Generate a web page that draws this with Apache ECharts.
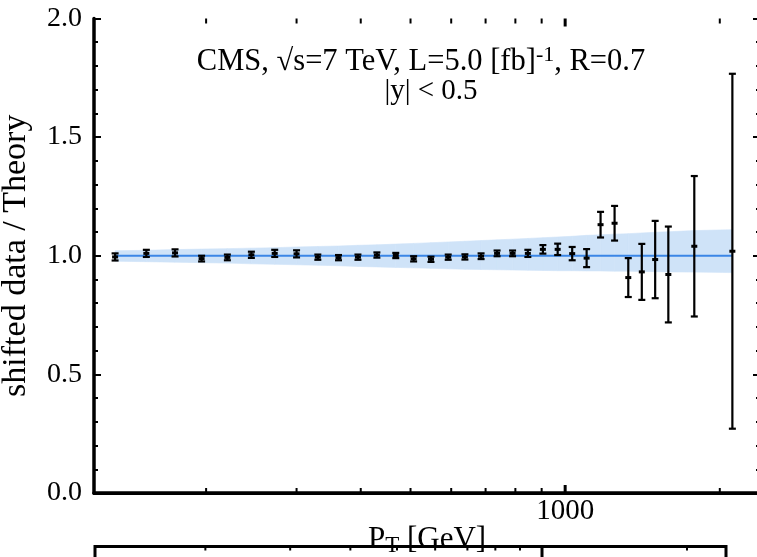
<!DOCTYPE html>
<html>
<head>
<meta charset="utf-8">
<script src="https://cdn.jsdelivr.net/npm/echarts@6/dist/echarts.min.js"></script>
<style>
  html, body { margin: 0; padding: 0; background: #fff; }
  #chart { width: 757px; height: 557px; }
</style>
</head>
<body>
<div id="chart"></div>
<script>
// jet pT bin edges (GeV), data / theory ratio and its error
var pt = [133, 153, 174, 196, 220, 245, 272, 300, 330, 362, 395, 430, 468, 507, 548, 592, 638,
  686, 737, 790, 846, 905, 967, 1032, 1101, 1172, 1248, 1327, 1410, 1497, 1588, 1784, 2116]
var ratio = [0.995, 1.010, 1.012, 0.988, 0.993, 1.004, 1.010, 1.008, 0.994, 0.992, 0.994, 1.003,
  1.001, 0.987, 0.985, 0.994, 0.995, 0.998, 1.010, 1.010, 1.010, 1.027, 1.027, 1.009, 0.990,
  1.131, 1.137, 0.908, 0.932, 0.984, 0.921, 1.040, 1.019]
var ratioErr = [0.015, 0.015, 0.015, 0.012, 0.012, 0.013, 0.015, 0.015, 0.011, 0.011, 0.011, 0.011,
  0.011, 0.011, 0.011, 0.011, 0.011, 0.012, 0.012, 0.012, 0.015, 0.018, 0.024, 0.028, 0.038,
  0.054, 0.073, 0.082, 0.118, 0.163, 0.202, 0.296, 0.748]
// theory uncertainty band
var bandHi = [1.021, 1.023, 1.026, 1.028, 1.030, 1.032, 1.034, 1.037, 1.039, 1.041, 1.044, 1.046,
  1.049, 1.052, 1.055, 1.058, 1.061, 1.064, 1.067, 1.070, 1.073, 1.076, 1.079, 1.082, 1.086,
  1.088, 1.091, 1.093, 1.096, 1.099, 1.101, 1.106, 1.110]
var bandLo = [0.977, 0.975, 0.973, 0.971, 0.969, 0.966, 0.964, 0.962, 0.960, 0.958, 0.955, 0.953,
  0.951, 0.949, 0.947, 0.945, 0.943, 0.942, 0.941, 0.940, 0.939, 0.938, 0.937, 0.937, 0.936,
  0.936, 0.935, 0.935, 0.934, 0.933, 0.932, 0.931, 0.929]
var minorTicks = [200, 300, 400, 500, 600, 700, 800, 900, 2000]
var majorTicks = [1000]

var serif = 'Liberation Serif'
var chart = echarts.init(document.getElementById('chart'))

var tickData = minorTicks.map(function(v) { return [v, 0] })
  .concat(majorTicks.map(function(v) { return [v, 1] }))

var bandData = []
for (var i = 0; i < pt.length - 1; i++) {
  bandData.push([pt[i], bandLo[i], bandHi[i], pt[i + 1], bandLo[i + 1], bandHi[i + 1]])
}

function yAxisOpt(pos, showLabel) {
  return {
    type: 'value', gridIndex: 0, position: pos, min: 0, max: 2, interval: 0.5,
    name: showLabel ? 'shifted data / Theory' : '',
    nameLocation: 'middle', nameGap: 61, nameMoveOverlap: false,
    nameTextStyle: { fontFamily: serif, fontSize: 34, color: '#000' },
    axisLine: { show: true, lineStyle: { color: '#000', width: 3.5 } },
    axisTick: { inside: true, length: 7, lineStyle: { color: '#000', width: 2 } },
    minorTick: { show: true, splitNumber: 5, length: 4, lineStyle: { color: '#000', width: 2 } },
    splitLine: { show: false },
    axisLabel: {
      show: showLabel, margin: 12, fontFamily: serif, fontSize: 28, color: '#000',
      formatter: function(v) { return v.toFixed(1) }
    }
  }
}

chart.setOption({
  backgroundColor: '#fff',
  animation: false,
  grid: [
    { left: 94, right: -3, top: 18.5, bottom: 64, outerBoundsMode: 'none', containLabel: false },
    {
      left: 95, right: 31, top: 546.5, bottom: -300, outerBoundsMode: 'none', containLabel: false,
      show: true, borderColor: '#000', borderWidth: 3
    }
  ],
  graphic: [{
    type: 'text', x: 421, y: 62,
    style: {
      text: '{a|CMS, √s=7 TeV, L=5.0 [fb]}{s|-1}{a|, R=0.7}',
      align: 'center', verticalAlign: 'middle',
      rich: {
        a: { fontFamily: serif, fontSize: 30.5, lineHeight: 35, fill: '#000' },
        s: { fontFamily: serif, fontSize: 22, lineHeight: 22, verticalAlign: 'top', fill: '#000' }
      }
    }
  }, {
    type: 'text', x: 431, y: 91,
    style: { text: '|y| < 0.5', align: 'center', verticalAlign: 'middle', fontFamily: serif, fontSize: 29, fill: '#000' }
  }],
  xAxis: [{
    type: 'log', gridIndex: 0, position: 'bottom', min: 121, max: 2395, logBase: 10,
    name: 'P{sub|T} [GeV]', nameLocation: 'middle', nameGap: 30, nameMoveOverlap: false,
    nameTextStyle: {
      fontFamily: serif, fontSize: 31, lineHeight: 34, color: '#000',
      rich: { sub: { fontFamily: serif, fontSize: 23, lineHeight: 12, verticalAlign: 'bottom', color: '#000' } }
    },
    axisLine: { show: true, lineStyle: { color: '#000', width: 3.5 } },
    axisTick: { show: false },
    splitLine: { show: false },
    axisLabel: {
      margin: 4, fontFamily: serif, fontSize: 29, color: '#000',
      showMinLabel: false, showMaxLabel: false,
      formatter: function(v) { return Math.abs(v - 1000) < 1 ? '1000' : '' }
    }
  }, {
    type: 'log', gridIndex: 0, position: 'top', min: 121, max: 2395, logBase: 10,
    axisLine: { show: true, lineStyle: { color: '#000', width: 3 } },
    axisTick: { show: false }, axisLabel: { show: false }, splitLine: { show: false }
  }, {
    type: 'log', gridIndex: 1, position: 'top', min: 118, max: 2410, logBase: 10,
    axisLine: { show: false }, axisTick: { show: false }, axisLabel: { show: false }, splitLine: { show: false }
  }],
  yAxis: [
    yAxisOpt('left', true),
    yAxisOpt('right', false),
    { type: 'value', gridIndex: 1, min: 0, max: 1, show: false }
  ],
  series: [{
    // theory band
    type: 'custom', xAxisIndex: 0, yAxisIndex: 0, silent: true, z: 1,
    data: bandData,
    encode: { x: [0, 3], y: [1, 2, 4, 5] },
    renderItem: function(params, api) {
      var a1 = api.coord([api.value(0), api.value(1)])
      var a2 = api.coord([api.value(0), api.value(2)])
      var b1 = api.coord([api.value(3), api.value(4)])
      var b2 = api.coord([api.value(3), api.value(5)])
      return {
        type: 'polygon',
        shape: { points: [a1, a2, b2, b1] },
        style: { fill: '#cfe3f8', stroke: '#cfe3f8', lineWidth: 0.6 }
      }
    }
  }, {
    // theory central line
    type: 'line', xAxisIndex: 0, yAxisIndex: 0, silent: true, z: 2,
    symbol: 'none',
    data: pt.map(function(p) { return [p, 1] }),
    lineStyle: { color: '#3b86e6', width: 2 }
  }, {
    // data points with error bars
    type: 'custom', xAxisIndex: 0, yAxisIndex: 0, silent: true, z: 3,
    data: pt.map(function(p, i) { return [p, ratio[i], ratio[i] - ratioErr[i], ratio[i] + ratioErr[i]] }),
    encode: { x: 0, y: [1, 2, 3] },
    renderItem: function(params, api) {
      var c = api.coord([api.value(0), api.value(1)])
      var lo = api.coord([api.value(0), api.value(2)])
      var hi = api.coord([api.value(0), api.value(3)])
      var st = { stroke: '#000', lineWidth: 2.2 }
      return {
        type: 'group',
        children: [
          { type: 'line', shape: { x1: c[0], y1: lo[1], x2: c[0], y2: hi[1] }, style: st },
          { type: 'line', shape: { x1: c[0] - 3.5, y1: lo[1], x2: c[0] + 3.5, y2: lo[1] }, style: st },
          { type: 'line', shape: { x1: c[0] - 3.5, y1: hi[1], x2: c[0] + 3.5, y2: hi[1] }, style: st },
          { type: 'rect', shape: { x: c[0] - 3, y: c[1] - 1.5, width: 6, height: 3 }, style: { fill: '#000' } }
        ]
      }
    }
  }, {
    // minor / major ticks of the log axis, top and bottom
    type: 'custom', xAxisIndex: 0, yAxisIndex: 0, silent: true, z: 5,
    data: tickData,
    renderItem: function(params, api) {
      var major = api.value(1) === 1
      var len = major ? 8 : 5
      var b = api.coord([api.value(0), 0])
      var t = api.coord([api.value(0), 2])
      var st = { stroke: '#000', lineWidth: major ? 3 : 2 }
      return {
        type: 'group',
        children: [
          { type: 'line', shape: { x1: b[0], y1: b[1], x2: b[0], y2: b[1] - len }, style: st },
          { type: 'line', shape: { x1: t[0], y1: t[1], x2: t[0], y2: t[1] + len }, style: st }
        ]
      }
    }
  }, {
    // ticks on the lower panel
    type: 'custom', xAxisIndex: 2, yAxisIndex: 2, silent: true, z: 5,
    data: tickData,
    renderItem: function(params, api) {
      var major = api.value(1) === 1
      var t = api.coord([api.value(0), 1])
      return {
        type: 'line',
        shape: { x1: t[0], y1: t[1], x2: t[0], y2: t[1] + (major ? 11 : 4) },
        style: { stroke: '#000', lineWidth: major ? 3 : 2 }
      }
    }
  }]
})
</script>
</body>
</html>
